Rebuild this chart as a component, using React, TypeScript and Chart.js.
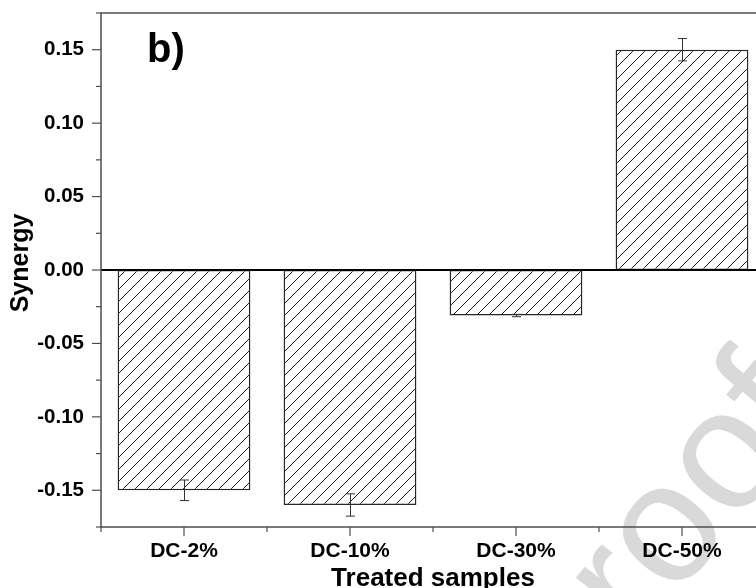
import React, { useEffect, useRef } from 'react';
import { Chart, registerables } from 'chart.js';

Chart.register(...registerables);

// ---- data ----
const categories = ['DC-2%', 'DC-10%', 'DC-30%', 'DC-50%'];
const synergy = [-0.15, -0.16, -0.031, 0.15];
const synergyError = [0.007, 0.0076, 0.0008, 0.0076];
const yMin = -0.175;
const yMax = 0.175;
const yStep = 0.025;
const yLabelled = [-0.15, -0.1, -0.05, 0.0, 0.05, 0.1, 0.15];
const xTitle = 'Treated samples';
const yTitle = 'Synergy';
const panelLabel = 'b)';
const watermark = 'Proof';

const FONT = '"Liberation Sans", Arial, Helvetica, sans-serif';

function makeHatch(): CanvasPattern | string {
  const s = 12;
  const c = document.createElement('canvas');
  c.width = s;
  c.height = s;
  const g = c.getContext('2d');
  if (!g) return '#fff';
  g.fillStyle = '#fff';
  g.fillRect(0, 0, s, s);
  g.strokeStyle = '#1a1a1a';
  g.lineWidth = 1;
  g.beginPath();
  g.moveTo(0, s);
  g.lineTo(s, 0);
  g.moveTo(-s / 2, s / 2);
  g.lineTo(s / 2, -s / 2);
  g.moveTo(s / 2, s * 1.5);
  g.lineTo(s * 1.5, s / 2);
  g.stroke();
  return g.createPattern(c, 'repeat') || '#fff';
}

const isLabelled = (v: number) => yLabelled.some((t) => Math.abs(t - v) < 1e-6);

const decorPlugin = {
  id: 'decor',
  beforeDraw(chart: any) {
    const ctx = chart.ctx as CanvasRenderingContext2D;
    ctx.save();
    ctx.fillStyle = '#fff';
    ctx.fillRect(0, 0, chart.width, chart.height);
    ctx.translate(566, 731);
    ctx.rotate((-50.6 * Math.PI) / 180);
    ctx.font = `170px ${FONT}`;
    ctx.fillStyle = '#d9d9d9';
    ctx.textAlign = 'left';
    ctx.textBaseline = 'alphabetic';
    ctx.fillText(watermark, 0, 0);
    ctx.restore();
  },
  afterDatasetsDraw(chart: any) {
    const ctx = chart.ctx as CanvasRenderingContext2D;
    const ys = chart.scales.y;
    const area = chart.chartArea;
    const meta = chart.getDatasetMeta(0);
    ctx.save();
    // zero line
    const y0 = ys.getPixelForValue(0);
    ctx.strokeStyle = '#000';
    ctx.lineWidth = 2;
    ctx.beginPath();
    ctx.moveTo(area.left, y0);
    ctx.lineTo(area.right, y0);
    ctx.stroke();
    // error bars
    ctx.strokeStyle = '#333';
    ctx.lineWidth = 1;
    meta.data.forEach((bar: any, i: number) => {
      const v = synergy[i];
      const e = synergyError[i];
      const x = Math.round(bar.x) + 0.5;
      const yt = ys.getPixelForValue(v + e);
      const yb = ys.getPixelForValue(v - e);
      ctx.beginPath();
      ctx.moveTo(x, yt);
      ctx.lineTo(x, yb);
      ctx.moveTo(x - 4.5, yt);
      ctx.lineTo(x + 4.5, yt);
      ctx.moveTo(x - 4.5, yb);
      ctx.lineTo(x + 4.5, yb);
      ctx.stroke();
    });
    ctx.restore();
  },
  afterDraw(chart: any) {
    const ctx = chart.ctx as CanvasRenderingContext2D;
    const area = chart.chartArea;
    const xs = chart.scales.x;
    const ys = chart.scales.y;
    ctx.save();
    // frame
    ctx.strokeStyle = '#4d4d4d';
    ctx.lineWidth = 1.5;
    ctx.beginPath();
    ctx.moveTo(area.left, area.top);
    ctx.lineTo(area.right, area.top);
    ctx.lineTo(area.right, area.bottom);
    ctx.lineTo(area.left, area.bottom);
    ctx.closePath();
    ctx.stroke();
    // y ticks
    ctx.lineWidth = 1.2;
    ys.ticks.forEach((t: any) => {
      const p = ys.getPixelForValue(t.value);
      const len = isLabelled(t.value) ? 9 : 5;
      ctx.beginPath();
      ctx.moveTo(area.left - len, p);
      ctx.lineTo(area.left, p);
      ctx.stroke();
    });
    // x ticks
    const n = categories.length;
    for (let i = 0; i < n; i++) {
      const p = xs.getPixelForValue(i);
      ctx.beginPath();
      ctx.moveTo(p, area.bottom);
      ctx.lineTo(p, area.bottom + 9);
      ctx.stroke();
    }
    for (let i = 0; i <= n; i++) {
      const p = xs.getPixelForValue(i - 0.5);
      ctx.beginPath();
      ctx.moveTo(p, area.bottom);
      ctx.lineTo(p, area.bottom + 5);
      ctx.stroke();
    }
    // titles
    ctx.fillStyle = '#000';
    ctx.textBaseline = 'alphabetic';
    ctx.textAlign = 'center';
    ctx.font = `bold 26px ${FONT}`;
    ctx.fillText(xTitle, (area.left + area.right) / 2, 586);
    ctx.save();
    ctx.translate(28, 263);
    ctx.rotate(-Math.PI / 2);
    ctx.font = `bold 25px ${FONT}`;
    ctx.fillText(yTitle, 0, 0);
    ctx.restore();
    ctx.textAlign = 'left';
    ctx.font = `bold 40px ${FONT}`;
    ctx.fillText(panelLabel, 147, 62);
    ctx.restore();
  },
};

export default function App() {
  const ref = useRef<HTMLCanvasElement>(null);
  useEffect(() => {
    const canvas = ref.current;
    if (!canvas) return;
    const chart = new Chart(canvas, {
      type: 'bar',
      data: {
        labels: categories,
        datasets: [
          {
            data: synergy,
            backgroundColor: makeHatch() as any,
            borderColor: '#262626',
            borderWidth: 1.5,
            borderSkipped: false,
            categoryPercentage: 1,
            barPercentage: 0.8,
          },
        ],
      },
      options: {
        responsive: false,
        animation: false,
        devicePixelRatio: 1,
        layout: { padding: { top: 13, right: 35, bottom: 0, left: 0 } },
        plugins: { legend: { display: false }, tooltip: { enabled: false } },
        scales: {
          x: {
            type: 'category',
            offset: true,
            grid: { display: false, drawTicks: false },
            border: { display: false },
            ticks: {
              font: { family: FONT, size: 21, weight: 'bold' },
              color: '#000',
              padding: 12,
              maxRotation: 0,
              autoSkip: false,
            },
            afterFit(s: any) {
              s.height = 61;
              s.paddingLeft = 0;
              s.paddingRight = 0;
            },
          },
          y: {
            type: 'linear',
            min: yMin,
            max: yMax,
            grid: { display: false, drawTicks: false },
            border: { display: false },
            ticks: {
              stepSize: yStep,
              maxTicksLimit: 100,
              autoSkip: false,
              font: { family: FONT, size: 20.5, weight: 'bold' },
              color: '#000',
              padding: 17,
              callback: (v: any) => {
                const n = Number(v);
                if (!isLabelled(n)) return '';
                const r = Math.round(n * 100) / 100;
                return (Math.abs(r) < 1e-9 ? 0 : r).toFixed(2);
              },
            },
            afterFit(s: any) {
              s.width = 101;
              s.paddingTop = 0;
              s.paddingBottom = 0;
            },
          },
        },
      },
      plugins: [decorPlugin],
    } as any);
    return () => chart.destroy();
  }, []);
  return (
    <div
      style={{
        position: 'fixed',
        left: 0,
        top: 0,
        width: 756,
        height: 588,
        overflow: 'hidden',
        background: '#fff',
      }}
    >
      <canvas ref={ref} width={800} height={588} style={{ display: 'block', width: 800, height: 588 }} />
    </div>
  );
}
